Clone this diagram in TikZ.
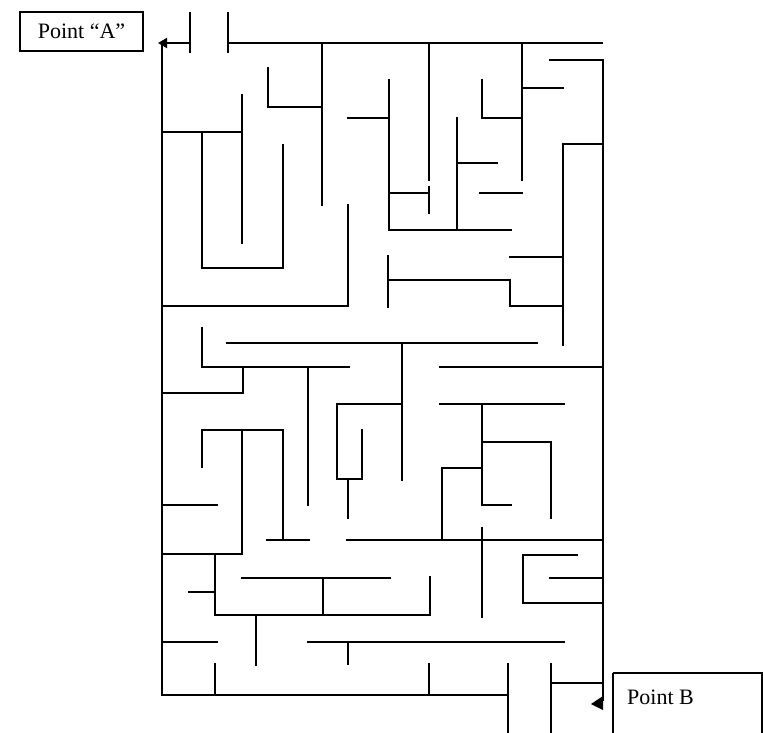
\documentclass[tikz,border=0pt]{standalone}
\usepackage{fontspec}
\setmainfont{Liberation Serif}
\usetikzlibrary{arrows.meta}
\begin{document}
\begin{tikzpicture}[x=1pt,y=-1pt,
  wall/.style={line width=1.8pt,line cap=rect},
  label/.style={draw,line width=1.6pt,inner sep=0pt,font=\fontsize{22}{22}\selectfont}]
\useasboundingbox (0,0) rectangle (763,733);
\fill[white] (0,0) rectangle (763,733);
% labels
\node[label,minimum width=123pt,minimum height=39pt] (pa) at (81.5,31.5) {Point \textquotedblleft A\textquotedblright};
\draw[line width=1.6pt] (613,673) -- (762,673) -- (762,745);
\draw[line width=1.6pt] (613,673) -- (613,745);
\node[font=\fontsize{22}{22}\selectfont,anchor=west,inner sep=0pt] (pb) at (627,697) {Point B};
% entrance and exit
\draw[wall,line cap=butt,-{Triangle[length=9pt,width=10pt]}] (190,43) -- (158,43);
\fill (591,704) -- (603,696) -- (603,710) -- cycle;
% walls
\draw[wall] (162,43) -- (162,695);
\draw[wall] (190,13) -- (190,52);
\draw[wall] (228,13) -- (228,52);
\draw[wall] (228,43) -- (602,43);
\draw[wall] (322,43) -- (322,205);
\draw[wall] (268,68) -- (268,107) -- (322,107);
\draw[wall] (162,132) -- (242,132);
\draw[wall] (242,95) -- (242,243);
\draw[wall] (202,132) -- (202,268) -- (283,268) -- (283,145);
\draw[wall] (429,43) -- (429,180);
\draw[wall] (429,187) -- (429,213);
\draw[wall] (389,193) -- (429,193);
\draw[wall] (389,80) -- (389,230) -- (511,230);
\draw[wall] (348,118) -- (389,118);
\draw[wall] (457,118) -- (457,230);
\draw[wall] (457,163) -- (497,163);
\draw[wall] (482,80) -- (482,118) -- (522,118);
\draw[wall] (522,43) -- (522,180);
\draw[wall] (522,88) -- (563,88);
\draw[wall] (480,193) -- (522,193);
\draw[wall] (550,60) -- (603,60) -- (603,700);
\draw[wall] (603,144) -- (563,144) -- (563,345);
\draw[wall] (348,205) -- (348,306) -- (162,306);
\draw[wall] (388,256) -- (388,307);
\draw[wall] (388,280) -- (510,280) -- (510,306) -- (563,306);
\draw[wall] (510,257) -- (563,257);
\draw[wall] (227,343) -- (537,343);
\draw[wall] (202,328) -- (202,367) -- (349,367);
\draw[wall] (243,367) -- (243,393) -- (162,393);
\draw[wall] (308,367) -- (308,505);
\draw[wall] (402,343) -- (402,480);
\draw[wall] (402,404) -- (337,404) -- (337,479) -- (362,479) -- (362,430);
\draw[wall] (348,479) -- (348,518);
\draw[wall] (440,367) -- (603,367);
\draw[wall] (440,404) -- (564,404);
\draw[wall] (482,404) -- (482,505) -- (511,505);
\draw[wall] (482,442) -- (551,442) -- (551,518);
\draw[wall] (482,468) -- (442,468) -- (442,540);
\draw[wall] (202,467) -- (202,430) -- (283,430) -- (283,540);
\draw[wall] (242,430) -- (242,554) -- (162,554);
\draw[wall] (162,505) -- (217,505);
\draw[wall] (267,540) -- (309,540);
\draw[wall] (347,540) -- (603,540);
\draw[wall] (482,528) -- (482,617);
\draw[wall] (215,554) -- (215,615) -- (430,615) -- (430,577);
\draw[wall] (189,592) -- (215,592);
\draw[wall] (242,578) -- (390,578);
\draw[wall] (323,578) -- (323,615);
\draw[wall] (256,615) -- (256,665);
\draw[wall] (162,642) -- (217,642);
\draw[wall] (308,642) -- (564,642);
\draw[wall] (348,642) -- (348,664);
\draw[wall] (162,695) -- (508,695);
\draw[wall] (215,664) -- (215,695);
\draw[wall] (429,664) -- (429,695);
\draw[wall] (508,664) -- (508,740);
\draw[wall] (551,664) -- (551,740);
\draw[wall] (551,683) -- (603,683);
\draw[wall] (577,555) -- (523,555) -- (523,603) -- (603,603);
\draw[wall] (550,578) -- (603,578);
\end{tikzpicture}
\end{document}
